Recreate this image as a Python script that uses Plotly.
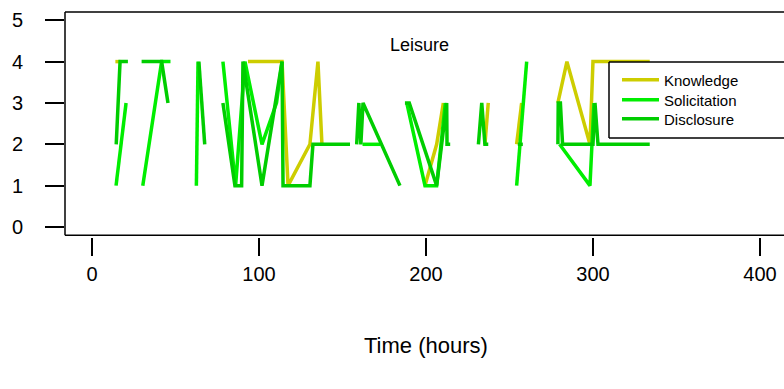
import plotly.graph_objects as go

# ---- data (hours, rating); None marks gaps between runs ----
know_x = [14, 17, None, 93.4, 113.8, 117.4, 130.5, 135.3, 137.7, None,
          199.4, 206.4, 210.4, None, 235.3, 237.3, None, 254.3, 257.3, None,
          279, 284.4, 298.2, 300, 334]
know_y = [4, 4, None, 4, 4, 1, 2, 4, 2, None,
          1, 2, 3, None, 2, 3, None, 2, 3, None,
          3, 4, 2, 4, 4]

sol_x = [14.4, 20.4, None, 30.4, 41.7, 47, None, 62.5, 63.5, None,
         78.4, 86, 91.6, 101.8, 110.5, 113.8, None, 162, 172.5, None,
         188.5, 199.4, 206.4, 211.6, None, 254.3, 260.3, None,
         280, 298.2, 300.6]
sol_y = [1, 3, None, 1, 4, 4, None, 1, 4, None,
         4, 1, 4, 2, 3, 4, None, 2, 2, None,
         3, 1, 1, 3, None, 1, 4, None,
         2, 1, 3]

dis_x = [14.5, 16.8, 21.5, None, 29.7, 41.7, 45.5, None, 64, 67.5, None,
         78.4, 85.6, 89.6, 90.4, 101.8, 113.8, 114.4, 130.5, 132.3, 154.5, None,
         158.5, 159.8, 161, 162.3, 184.4, None,
         187.4, 190, 206.4, 212.4, 212.6, 214.5, None,
         231.4, 233.4, 235.3, 237.3, None, 255, 258, None,
         279, 279.2, 280.5, 281.8, 300, 301.2, 303, 334]
dis_y = [2, 4, 4, None, 4, 4, 3, None, 4, 2, None,
         3, 1, 1, 4, 1, 4, 1, 1, 2, 2, None,
         2, 3, 2, 3, 1, None,
         3, 3, 1, 3, 2, 2, None,
         2, 3, 2, 2, None, 2, 2, None,
         2, 3, 3, 2, 2, 3, 2, 2]

series_names = ["Knowledge", "Solicitation", "Disclosure"]
series_colors = ["#CDCD00", "#00EE00", "#00CD00"]
x_ticks = [0, 100, 200, 300, 400]
y_ticks = [0, 1, 2, 3, 4, 5]

FONT = "Liberation Sans, Arial, sans-serif"

# plot area (page px): x 65..784, y 12..237
def px_x(p):
    return (p - 65) / 719

def px_y(p):
    return (237 - p) / 225

legend_ids = ["legend", "legend2", "legend3"]
legend_rows = [80, 100, 119]

fig = go.Figure()
for name, xs, ys, col, lid in zip(series_names, [know_x, sol_x, dis_x],
                                  [know_y, sol_y, dis_y], series_colors,
                                  legend_ids):
    fig.add_trace(go.Scatter(x=xs, y=ys, mode="lines", name=name,
                             line=dict(color=col, width=3.5),
                             connectgaps=False, legend=lid))

legend_layout = {}
for lid, row in zip(legend_ids, legend_rows):
    legend_layout[lid] = dict(x=px_x(617), y=px_y(row), xanchor="left",
                              yanchor="middle", bgcolor="rgba(0,0,0,0)",
                              borderwidth=0, font=dict(size=15, family=FONT),
                              itemwidth=37)

BLK = dict(color="black", width=1.5)
box_b, box_t = px_y(235.3), 1.0
leg_l, leg_t, leg_b = px_x(609), px_y(62), px_y(138)

fig.update_layout(
    width=784, height=389,
    margin=dict(l=65, r=0, t=12, b=152, autoexpand=False),
    paper_bgcolor="white", plot_bgcolor="white",
    font=dict(family=FONT, color="black"),
    showlegend=True,
    **legend_layout,
    xaxis=dict(range=[-16.17, 414.4], tickvals=x_ticks, automargin=False,
               ticks="outside", ticklen=18, tickwidth=1.5, tickcolor="black",
               showline=False, showgrid=False, zeroline=False,
               tickfont=dict(size=20, family=FONT), ticklabelstandoff=1),
    yaxis=dict(range=[-0.242, 5.2], tickvals=y_ticks, automargin=False,
               ticks="outside", ticklen=19, tickwidth=1.5, tickcolor="black",
               showline=False, showgrid=False, zeroline=False,
               tickfont=dict(size=20, family=FONT), ticklabelstandoff=18),
    shapes=[
        # plot frame (right side lies at/after the window edge)
        dict(type="line", xref="paper", yref="paper", x0=0, x1=1.0,
             y0=box_t, y1=box_t, line=BLK, layer="above"),
        dict(type="line", xref="paper", yref="paper", x0=0, x1=1.0,
             y0=box_b, y1=box_b, line=BLK, layer="above"),
        dict(type="line", xref="paper", yref="paper", x0=0, x1=0,
             y0=box_b, y1=box_t, line=BLK, layer="above"),
        # legend box
        dict(type="rect", xref="paper", yref="paper", x0=leg_l, x1=1.0,
             y0=leg_b, y1=leg_t, line=dict(width=0),
             fillcolor="white", layer="above"),
        dict(type="line", xref="paper", yref="paper", x0=leg_l, x1=1.0,
             y0=leg_t, y1=leg_t, line=BLK, layer="above"),
        dict(type="line", xref="paper", yref="paper", x0=leg_l, x1=1.0,
             y0=leg_b, y1=leg_b, line=BLK, layer="above"),
        dict(type="line", xref="paper", yref="paper", x0=leg_l, x1=leg_l,
             y0=leg_b, y1=leg_t, line=BLK, layer="above"),
    ],
    annotations=[
        dict(text="Leisure", xref="x", yref="y", x=196.4, y=4.4,
             showarrow=False, font=dict(size=18, family=FONT)),
        dict(text="Time (hours)", xref="x", yref="paper", x=200, y=-0.48,
             yanchor="middle", showarrow=False, font=dict(size=22, family=FONT)),
    ],
)

fig.write_html("out.html", config={"displayModeBar": False},
               post_script="document.body.style.margin='0';"
                           "document.body.style.overflow='hidden';")
